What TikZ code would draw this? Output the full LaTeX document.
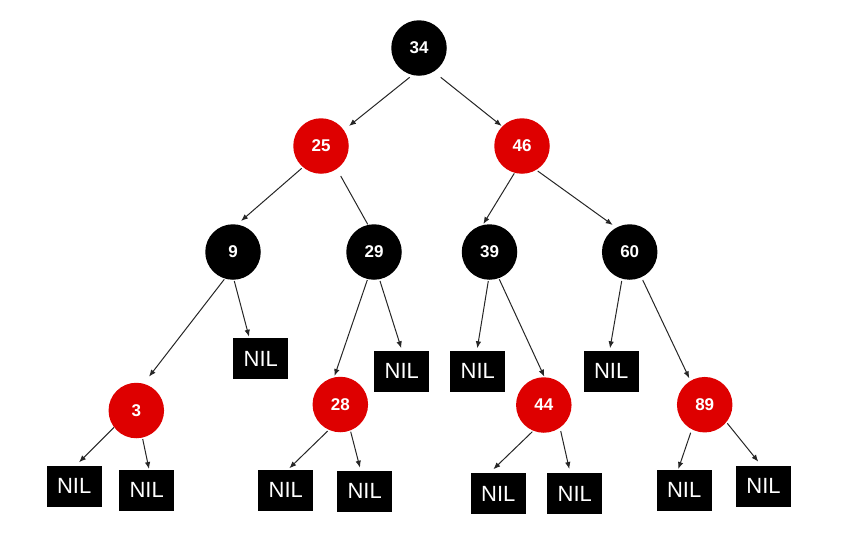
\documentclass[tikz,border=0pt]{standalone}
\usepackage{fontspec}
\setmainfont{Liberation Sans}
\usetikzlibrary{arrows.meta,calc,backgrounds}
\definecolor{rbred}{RGB}{222,0,0}
\tikzset{
  x=1pt,y=-1pt,
  rbnode/.style={circle,minimum size=55.5pt,inner sep=0pt,text=white,font=\fontsize{17}{17}\selectfont\bfseries},
  blacknode/.style={rbnode,fill=black},
  rednode/.style={rbnode,fill=rbred},
  nilbox/.style={rectangle,fill=black,minimum width=55pt,minimum height=41pt,inner sep=0pt,text=white,font=\fontsize{22}{22}\selectfont},
  edge/.style={line width=1pt,draw=black!85},
  arr/.style={edge,-{Latex[length=7pt,width=5.5pt]}}
}
\begin{document}
\begin{tikzpicture}
\useasboundingbox (0,0) rectangle (845,547);
% circles
\node[blacknode] (n34) at (419,48) {34};
\node[rednode] (n25) at (321,146) {25};
\node[rednode] (n46) at (522,146) {46};
\node[blacknode] (n9) at (233,252) {9};
\node[blacknode] (n29) at (374,252) {29};
\node[blacknode] (n39) at (489.5,252) {39};
\node[blacknode] (n60) at (629.7,252) {60};
\node[rednode] (n3) at (136.3,410.5) {3};
\node[rednode] (n28) at (340.3,404.5) {28};
\node[rednode] (n44) at (543.8,405) {44};
\node[rednode] (n89) at (704.7,404.7) {89};
% NIL boxes
\node[nilbox] (b9) at (260.8,358.8) {NIL};
\node[nilbox] (b29) at (401.8,371.3) {NIL};
\node[nilbox] (b39) at (477.8,371.2) {NIL};
\node[nilbox] (b60) at (611.2,371.2) {NIL};
\node[nilbox] (b3a) at (74.2,486.2) {NIL};
\node[nilbox] (b3b) at (146.7,490.3) {NIL};
\node[nilbox] (b28a) at (285.8,490) {NIL};
\node[nilbox] (b28b) at (364.7,491.2) {NIL};
\node[nilbox] (b44a) at (498.3,493.7) {NIL};
\node[nilbox] (b44b) at (574.8,493.7) {NIL};
\node[nilbox] (b89a) at (684.2,490.3) {NIL};
\node[nilbox] (b89b) at (763.5,486.2) {NIL};
% connectors
\begin{scope}[on background layer]
\draw[arr] ($(n34)+(-9.3,29.3)$) -- ($(n25)+(28,-20)$);
\draw[arr] ($(n34)+(21.7,29.3)$) -- ($(n46)+(-20.3,-20)$);
\draw[arr] ($(n25)+(-19.3,22.3)$) -- ($(n9)+(8,-31)$);
\draw[edge] ($(n25)+(19.7,30)$) -- ($(n29)+(-6.3,-27.7)$);
\draw[arr] ($(n46)+(-7.7,27.3)$) -- ($(n39)+(-6.2,-28)$);
\draw[arr] ($(n46)+(15.7,25)$) -- ($(n60)+(-17,-27)$);
\draw[arr] ($(n9)+(1.3,29)$) -- ($(b9)+(-11.8,-22.1)$);
\draw[arr] ($(n9)+(-8.7,27.3)$) -- ($(n3)+(12.7,-33.8)$);
\draw[arr] ($(n29)+(-6.7,28)$) -- ($(n28)+(-5.8,-28.5)$);
\draw[arr] ($(n29)+(6,29)$) -- ($(b29)+(-0.5,-23)$);
\draw[arr] ($(n39)+(-1.2,29)$) -- ($(b39)+(-0.5,-22.9)$);
\draw[arr] ($(n39)+(9.8,27.3)$) -- ($(n44)+(0.5,-28.3)$);
\draw[arr] ($(n60)+(-8,29)$) -- ($(b60)+(-1.2,-22.9)$);
\draw[arr] ($(n60)+(13,28)$) -- ($(n89)+(-15.4,-26.4)$);
\draw[arr] ($(n3)+(-22.3,16.8)$) -- ($(b3a)+(4.8,-23.9)$);
\draw[arr] ($(n3)+(6.4,28.5)$) -- ($(b3b)+(2.3,-21.3)$);
\draw[arr] ($(n28)+(-12.6,26.5)$) -- ($(b28a)+(3.5,-21.7)$);
\draw[arr] ($(n28)+(10.4,27.2)$) -- ($(b28b)+(-4.7,-23.5)$);
\draw[arr] ($(n44)+(-11.5,26.7)$) -- ($(b44a)+(-5,-24.4)$);
\draw[arr] ($(n44)+(16.9,26)$) -- ($(b44b)+(-5.5,-24.7)$);
\draw[arr] ($(n89)+(-14,28)$) -- ($(b89a)+(-5.9,-21.3)$);
\draw[arr] ($(n89)+(22.6,18.6)$) -- ($(b89b)+(-5.2,-24.5)$);
\end{scope}
\end{tikzpicture}
\end{document}
